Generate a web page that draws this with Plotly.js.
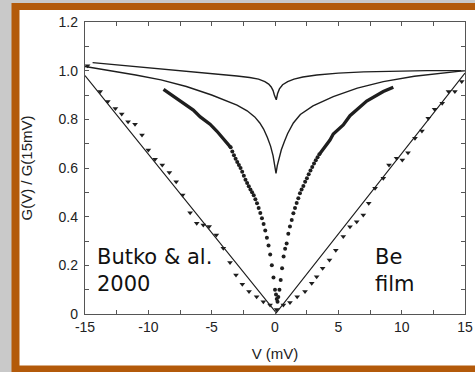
<!DOCTYPE html>
<html>
<head>
<meta charset="utf-8">
<script src="https://cdn.plot.ly/plotly-3.0.1.min.js"></script>
<style>html,body{margin:0;padding:0;background:#c9c9c9;}#chart{width:475px;height:372px;}</style>
</head>
<body>
<div id="chart"></div>
<script>
// Upper theory curve (shallow cusp)
var curveA_V = [-14.4,-12,-10,-8,-6,-4.5,-3,-2,-1.3,-0.8,-0.5,-0.3,-0.15,-0.05,0.1,0.2,0.35,0.6,1.0,1.5,2.2,3.3,5,7,9,12,15];
var curveA_G = [1.033,1.022,1.013,1.003,0.992,0.985,0.978,0.972,0.965,0.955,0.945,0.933,0.918,0.9,0.88,0.905,0.925,0.942,0.955,0.965,0.974,0.982,0.99,0.995,0.998,1.0,1.0];

// Second theory curve (deep cusp)
var curveB_V = [-15,-13,-11,-9,-7,-5,-4,-3,-2.2,-1.6,-1.2,-0.9,-0.6,-0.35,-0.15,0,0.08,0.18,0.3,0.5,0.75,1.0,1.45,2.0,3.0,4.6,6.5,8.55,11,13,15];
var curveB_G = [1.017,1.0,0.982,0.962,0.935,0.9,0.88,0.858,0.835,0.81,0.785,0.76,0.725,0.69,0.65,0.61,0.578,0.61,0.64,0.675,0.71,0.742,0.785,0.82,0.855,0.893,0.928,0.955,0.977,0.99,1.0];

// Dense measured curve, upper parts (dots merge into a thick band)
var denseLeft_V = [-8.8,-7.6,-6.45,-5.9,-5.13,-4.6,-3.8,-3.5];
var denseLeft_G = [0.923,0.88,0.838,0.81,0.78,0.752,0.705,0.685];
var denseRight_V = [3.55,4.34,4.6,5.39,5.92,7.24,8.55,9.34];
var denseRight_G = [0.66,0.715,0.74,0.777,0.815,0.875,0.914,0.932];

// Dense measured curve, lower part (separate dots)
var dots_V = [-3.5,-3.37,-3.24,-3.11,-2.98,-2.85,-2.72,-2.59,-2.46,-2.33,-2.2,-2.07,-1.94,-1.81,-1.68,-1.55,-1.42,-1.29,-1.16,-1.03,-0.9,-0.77,-0.64,-0.51,-0.38,-0.25,-0.12,0.0,0.08,0.14,0.2,0.26,0.35,0.45,0.56,0.68,0.8,0.92,1.05,1.18,1.32,1.45,1.58,1.71,1.84,1.97,2.1,2.24,2.38,2.52,2.66,2.8,2.94,3.08,3.22,3.36,3.5];
var dots_G = [0.685,0.668,0.652,0.638,0.625,0.612,0.6,0.585,0.568,0.552,0.538,0.525,0.512,0.5,0.488,0.472,0.455,0.436,0.415,0.394,0.37,0.343,0.313,0.282,0.245,0.2,0.15,0.1,0.08,0.062,0.05,0.07,0.1,0.14,0.188,0.236,0.268,0.29,0.33,0.36,0.386,0.414,0.436,0.456,0.476,0.496,0.512,0.526,0.544,0.558,0.574,0.59,0.604,0.618,0.632,0.644,0.656];

// V-shaped linear fit
var fit_V = [-15,0.1,15];
var fit_G = [0.98,0.005,0.99];

// Be film data (triangles)
var tri_V = [-14.8,-13.8,-13.2,-12.6,-12.1,-11.6,-11.05,-10.5,-10.0,-9.47,-8.9,-8.34,-7.8,-7.29,-6.7,-6.18,-5.66,-5.2,-4.63,-4.08,-3.55,-3.08,-2.58,-2.05,-1.45,-0.92,-0.39,0.13,0.66,1.18,1.75,2.37,2.9,3.29,3.76,4.3,4.8,5.39,5.92,6.45,6.97,7.4,7.9,8.55,9.0,9.6,10.05,10.5,11.05,11.6,12.1,12.6,13.2,13.7,14.2,14.74];
var tri_G = [1.02,0.914,0.873,0.845,0.822,0.79,0.78,0.736,0.674,0.636,0.612,0.581,0.544,0.489,0.416,0.373,0.366,0.36,0.325,0.27,0.212,0.16,0.122,0.092,0.071,0.05,0.037,0.019,0.037,0.047,0.071,0.092,0.126,0.153,0.188,0.222,0.262,0.318,0.359,0.379,0.407,0.455,0.517,0.558,0.612,0.64,0.633,0.663,0.722,0.752,0.804,0.841,0.866,0.914,0.914,0.955];

var xTickVals = [-15,-10,-5,0,5,10,15];
var xTickText = ['-15','-10','-5','0','5','10','15'];
var yTickVals = [0,0.2,0.4,0.6,0.8,1.0,1.2];
var yTickText = ['0','0.2','0.4','0.6','0.8','1.0','1.2'];

var ink = '#1e1e1e';
var traces = [
  {x: curveA_V, y: curveA_G, mode: 'lines', line: {color: ink, width: 1.4}},
  {x: curveB_V, y: curveB_G, mode: 'lines', line: {color: ink, width: 1.4}},
  {x: fit_V, y: fit_G, mode: 'lines', line: {color: ink, width: 1.2}},
  {x: denseLeft_V.concat([null]).concat(denseRight_V), y: denseLeft_G.concat([null]).concat(denseRight_G), mode: 'lines', line: {color: ink, width: 3.3}, connectgaps: false},
  {x: dots_V, y: dots_G, mode: 'markers', marker: {color: ink, size: 4}},
  {x: tri_V, y: tri_G, mode: 'markers', marker: {color: ink, size: 5, symbol: 'triangle-down'}}
];

// pixel -> paper helpers for frame shapes (plot area: x 85..465, y 22..314)
function px(p){ return (p - 85) / 380; }
function py(p){ return (314 - p) / 292; }

var axisCommon = {
  showline: true, linecolor: '#555', linewidth: 1.2, mirror: 'ticks',
  ticks: 'inside', ticklen: 4, tickcolor: '#555', tickwidth: 1,
  showgrid: false, zeroline: false, tickmode: 'array',
  tickfont: {family: 'Arial, "Liberation Sans", sans-serif', size: 14, color: '#222'}
};

var layout = {
  width: 475, height: 372,
  margin: {l: 85, r: 10, t: 22, b: 58},
  paper_bgcolor: '#c9c9c9',
  plot_bgcolor: 'rgba(0,0,0,0)',
  showlegend: false,
  xaxis: Object.assign({}, axisCommon, {
    range: [-15, 15], tickvals: xTickVals, ticktext: xTickText,
    minor: {tickmode: 'linear', tick0: -15, dtick: 2.5, ticks: 'inside', ticklen: 4, tickcolor: '#555'},
    title: {text: 'V (mV)', font: {family: 'Arial, "Liberation Sans", sans-serif', size: 15, color: '#222'}, standoff: 14}
  }),
  yaxis: Object.assign({}, axisCommon, {
    range: [0, 1.2], tickvals: yTickVals, ticktext: yTickText, ticklabelstandoff: 3,
    minor: {tickmode: 'linear', tick0: 0, dtick: 0.1, ticks: 'inside', ticklen: 4, tickcolor: '#555'},
    title: {text: 'G(V) / G(15mV)', font: {family: 'Arial, "Liberation Sans", sans-serif', size: 15, color: '#222'}, standoff: 22}
  }),
  shapes: [
    {type: 'rect', xref: 'paper', yref: 'paper', x0: px(11.5), x1: px(520), y0: py(3), y1: py(420), fillcolor: '#b35a0a', line: {width: 0}, layer: 'below'},
    {type: 'rect', xref: 'paper', yref: 'paper', x0: px(19.5), x1: px(520), y0: py(10), y1: py(365.5), fillcolor: '#ffffff', line: {width: 0}, layer: 'below'}
  ],
  annotations: [
    {x: -14.2, y: 0.177, xref: 'x', yref: 'y', xanchor: 'left', yanchor: 'middle', align: 'left', showarrow: false,
     text: 'Butko &amp; al.<br>2000', font: {family: '"DejaVu Sans", Verdana, sans-serif', size: 21, color: '#111'}},
    {x: 7.71, y: 0.177, xref: 'x', yref: 'y', xanchor: 'left', yanchor: 'middle', align: 'left', showarrow: false,
     text: 'Be<br>film', font: {family: '"DejaVu Sans", Verdana, sans-serif', size: 21, color: '#111'}}
  ]
};

Plotly.newPlot('chart', traces, layout, {displayModeBar: false, staticPlot: true});
</script>
</body>
</html>
